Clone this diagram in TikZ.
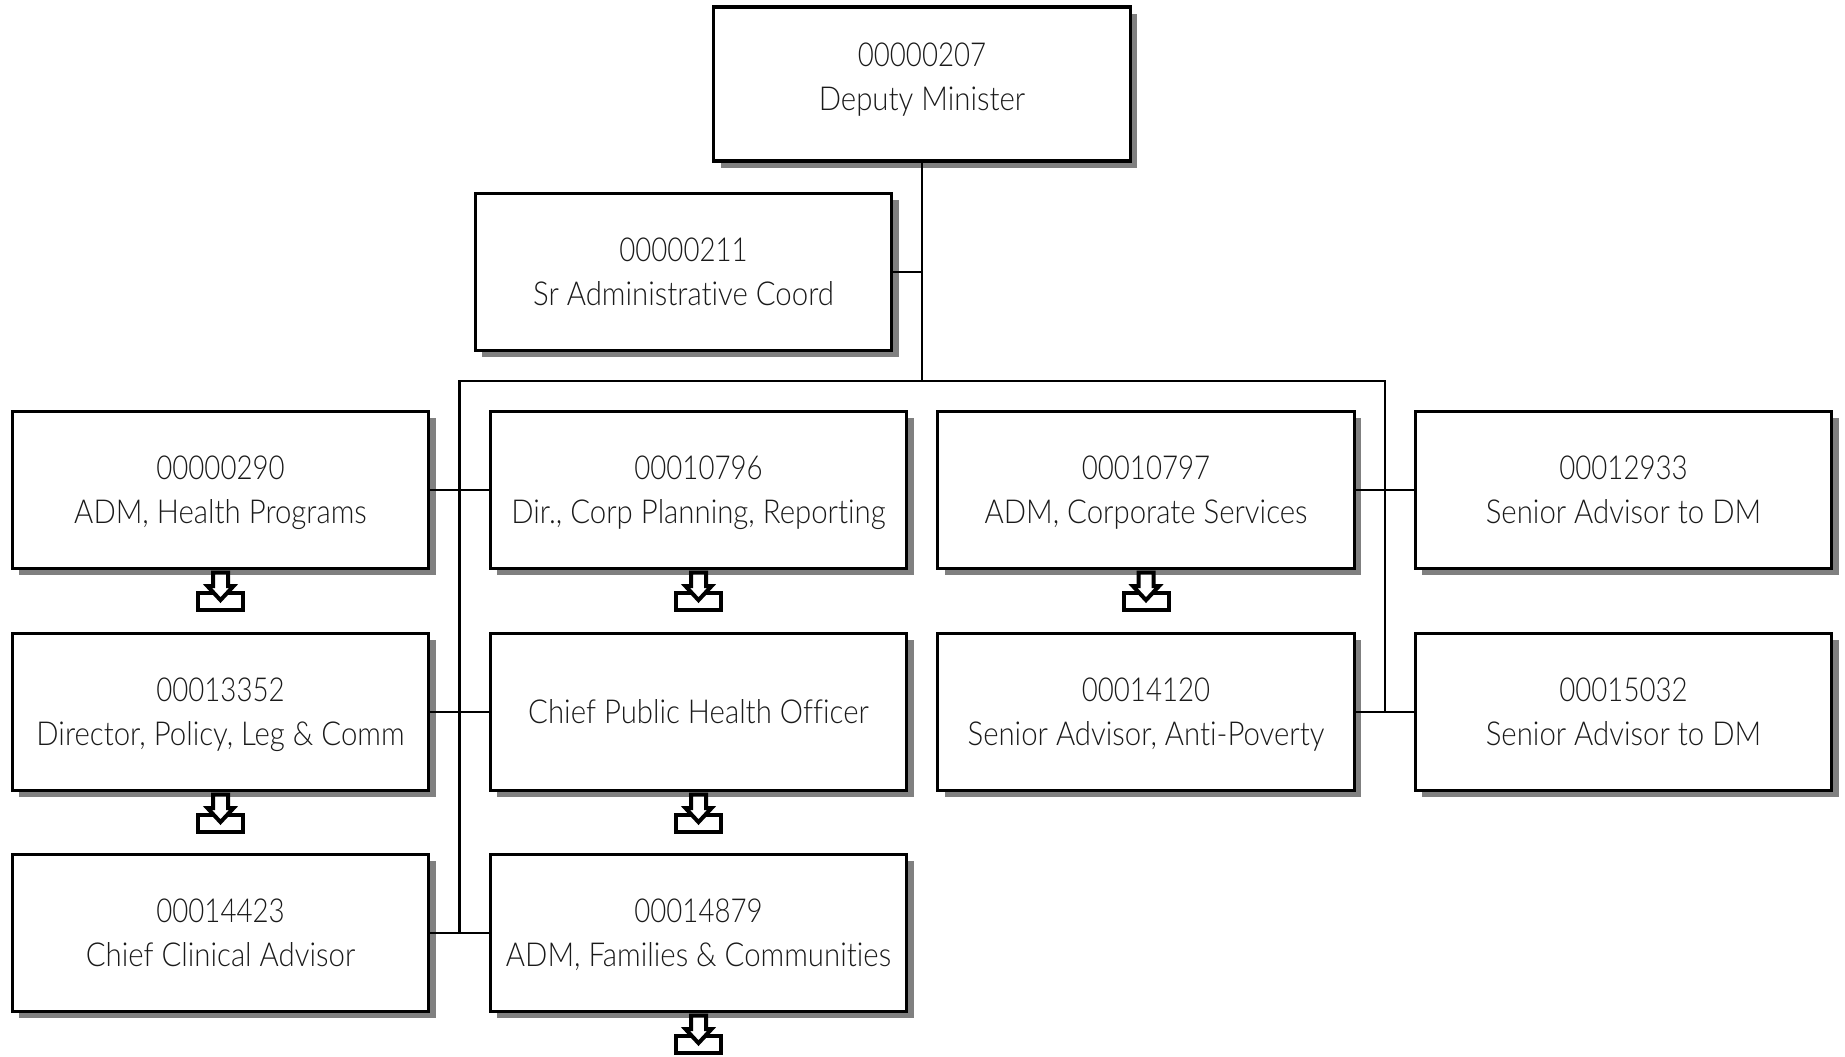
\documentclass[tikz,border=0pt]{standalone}
\usepackage{fontspec}
\setmainfont{Lato Light}[FakeStretch=0.89,Ligatures=NoCommon]
\newfontfamily\digitfont{Lato Light}[FakeStretch=0.838]
\usetikzlibrary{shadows}
\definecolor{shadowgray}{HTML}{808080}
\definecolor{textgray}{HTML}{1A1A1A}
\tikzset{
  x=0.5bp,y=-0.5bp,
  orgbox/.style={draw=black,line width=1.6bp,fill=white,minimum width=208.2bp,minimum height=78.6bp,
    inner sep=0pt,outer sep=0pt,align=center,text=textgray,font=\fontsize{16.5bp}{22bp}\selectfont,
    general shadow={fill=shadowgray,shadow xshift=3.4bp,shadow yshift=-3.4bp}},
  topbox/.style={orgbox,minimum height=77bp},
  conn/.style={draw=black,line width=1.4bp},
  moremark/.style={draw=black,line width=2bp,fill=white,miter limit=10}
}
\newcommand{\lft}[2]{\strut\smash{\raisebox{#1}{#2}}}
\newcommand{\boxtext}[3][-1.2bp]{\lft{#1}{\digitfont #2}\\\lft{#1}{#3}}
\newcommand{\moreunder}[1]{%
  \begin{scope}[shift={(#1.south)}]
    \draw[moremark] (-22.5,24.7) rectangle (22.5,41.5);
    \draw[moremark] (-7.5,4) -- (7.5,4) -- (7.5,17.5) -- (13,17.5) -- (0,31.5) -- (-13,17.5) -- (-7.5,17.5) -- cycle;
  \end{scope}}
\begin{document}
\begin{tikzpicture}
\useasboundingbox (0,0) rectangle (1845,1056);
\node[topbox] (dm) at (922,84) {\boxtext[2.2bp]{00000207}{Deputy Minister}};
\node[orgbox] (sr) at (683.5,272) {\boxtext{00000211}{Sr Administrative Coord}};
\node[orgbox] (a1) at (220.5,490) {\boxtext{00000290}{ADM, Health Programs}};
\node[orgbox] (b1) at (698.5,490) {\boxtext{00010796}{Dir., Corp Planning, Reporting}};
\node[orgbox] (c1) at (1146,490) {\boxtext{00010797}{ADM, Corporate Services}};
\node[orgbox] (d1) at (1623.5,490) {\boxtext{00012933}{Senior Advisor to DM}};
\node[orgbox] (a2) at (220.5,712) {\boxtext{00013352}{Director, Policy, Leg \& Comm}};
\node[orgbox] (b2) at (698.5,712) {\lft{-1.2bp}{Chief Public Health Officer}};
\node[orgbox] (c2) at (1146,712) {\boxtext{00014120}{Senior Advisor, Anti-Poverty}};
\node[orgbox] (d2) at (1623.5,712) {\boxtext{00015032}{Senior Advisor to DM}};
\node[orgbox] (a3) at (220.5,933) {\boxtext{00014423}{Chief Clinical Advisor}};
\node[orgbox] (b3) at (698.5,933) {\boxtext{00014879}{ADM, Families \& Communities}};
\coordinate (busl) at (459.5,381);
\coordinate (busr) at (1385,381);
\draw[conn] (dm.south) -- (dm.south |- busl);
\draw[conn] (sr.east) -- (sr.east -| dm.south);
\draw[conn] (a3.east -| busl) -- (busl) -- (busr) -- (d2.west -| busr);
\draw[conn] (a1.east) -- (b1.west);
\draw[conn] (a2.east) -- (b2.west);
\draw[conn] (a3.east) -- (b3.west);
\draw[conn] (c1.east) -- (d1.west);
\draw[conn] (c2.east) -- (d2.west);
\moreunder{a1}
\moreunder{b1}
\moreunder{c1}
\moreunder{a2}
\moreunder{b2}
\moreunder{b3}
\end{tikzpicture}
\end{document}
